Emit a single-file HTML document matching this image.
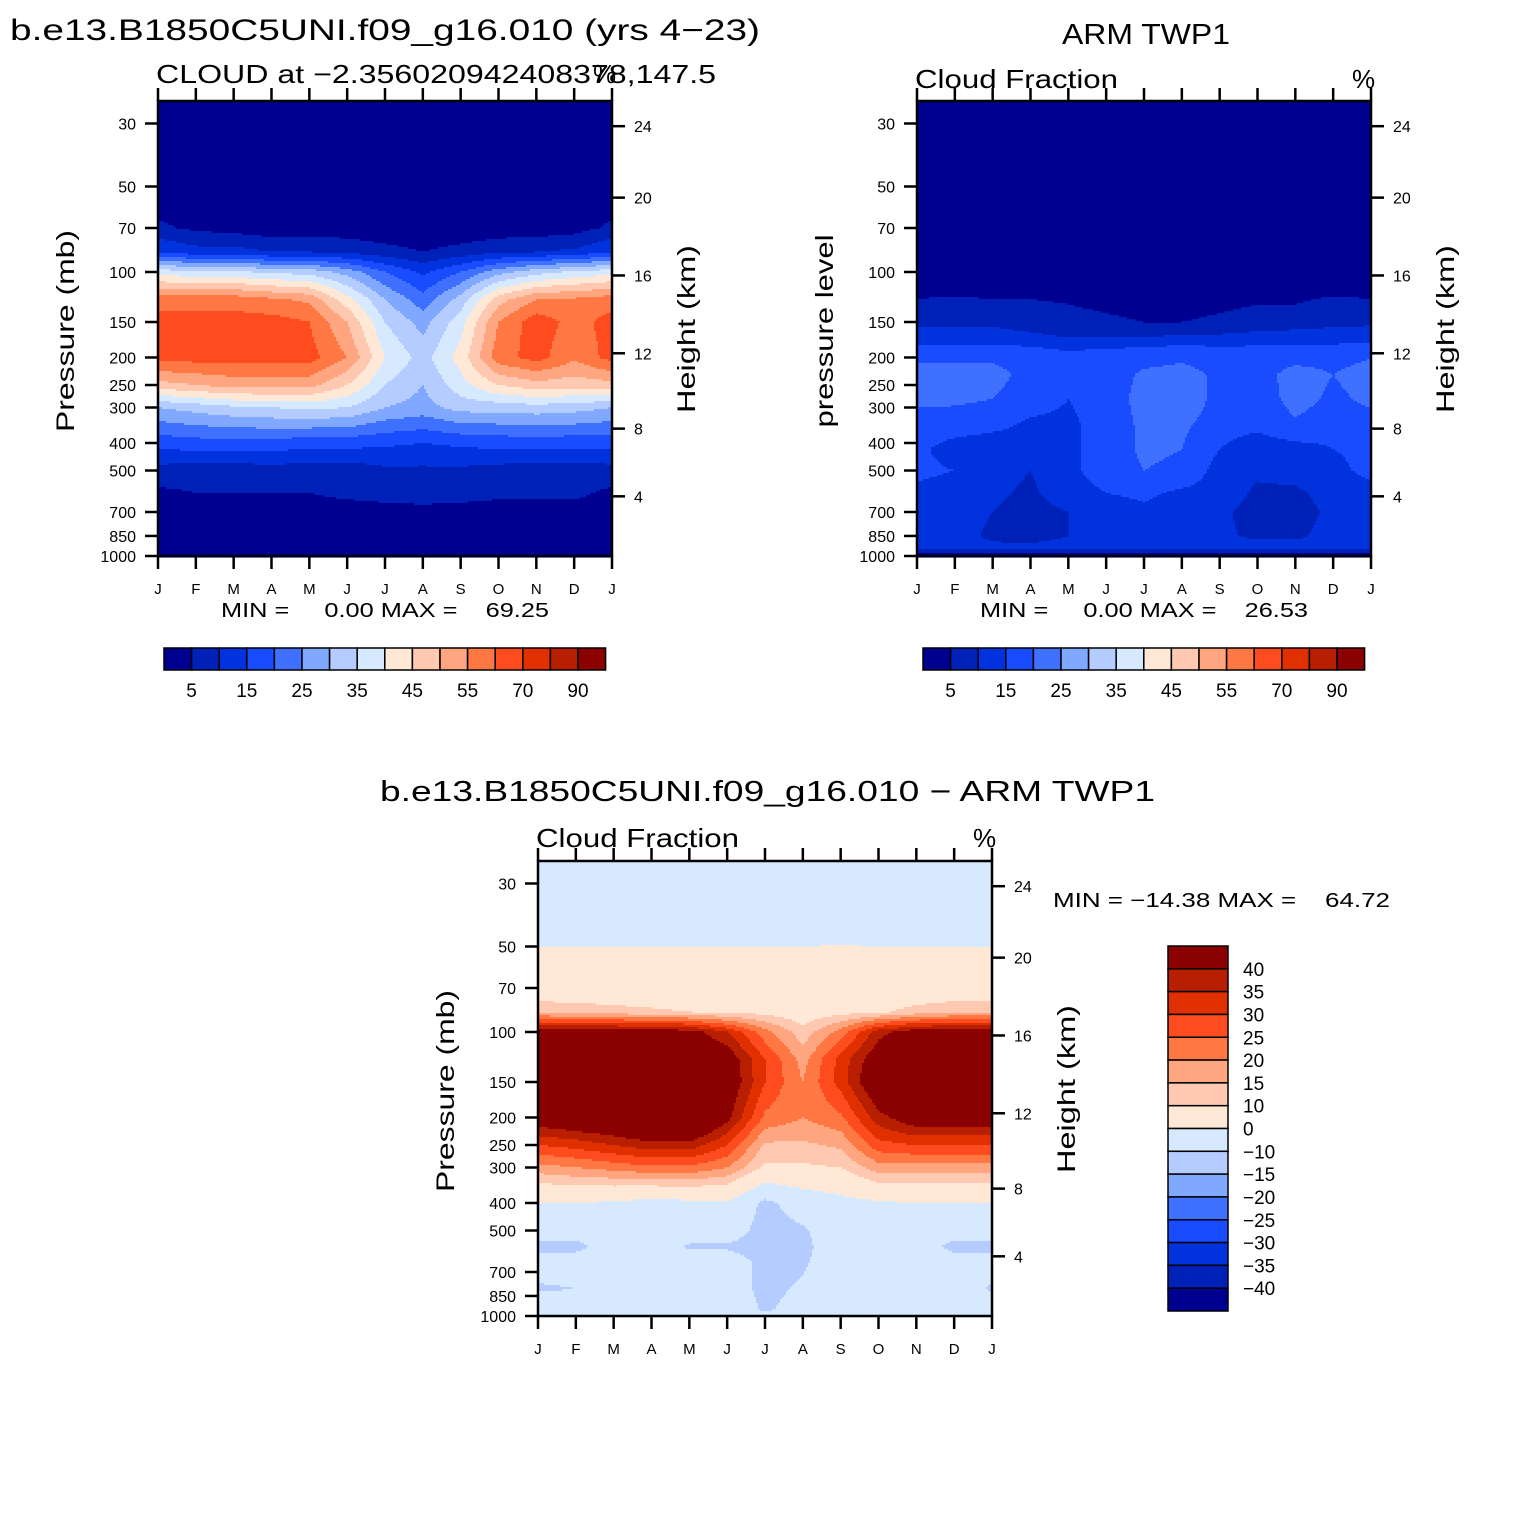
<!DOCTYPE html>
<html><head><meta charset="utf-8">
<style>
body{margin:0;background:#fff}
svg text{font-family:"Liberation Sans",sans-serif;fill:#000;white-space:pre}
</style></head>
<body>
<svg id="chart" xmlns="http://www.w3.org/2000/svg" width="1530" height="1530" viewBox="0 0 1530 1530">
<rect width="1530" height="1530" fill="#fff"/>
<text x="10" y="40" font-size="30" textLength="750" lengthAdjust="spacingAndGlyphs">b.e13.B1850C5UNI.f09_g16.010 (yrs 4−23)</text>
<text x="156" y="83" font-size="26" textLength="560" lengthAdjust="spacingAndGlyphs">CLOUD at −2.356020942408378,147.5</text>
<text x="593" y="83" font-size="26">%</text>
<text x="1062" y="44" font-size="29" textLength="168" lengthAdjust="spacingAndGlyphs">ARM TWP1</text>
<text x="915" y="88" font-size="26" textLength="203" lengthAdjust="spacingAndGlyphs">Cloud Fraction</text>
<text x="1352" y="88" font-size="26">%</text>
<text x="380" y="801" font-size="29" textLength="775" lengthAdjust="spacingAndGlyphs">b.e13.B1850C5UNI.f09_g16.010 − ARM TWP1</text>
<text x="536" y="847" font-size="26" textLength="203" lengthAdjust="spacingAndGlyphs">Cloud Fraction</text>
<text x="973" y="847" font-size="26">%</text>
<text x="221" y="617" font-size="20" textLength="328" lengthAdjust="spacingAndGlyphs">MIN =     0.00 MAX =    69.25</text>
<text x="980" y="617" font-size="20" textLength="328" lengthAdjust="spacingAndGlyphs">MIN =     0.00 MAX =    26.53</text>
<text x="1053" y="907" font-size="20" textLength="337" lengthAdjust="spacingAndGlyphs">MIN = −14.38 MAX =    64.72</text>
<g id="panels"></g>
</svg>
<script>
// ---- data ----
const months = ["J","F","M","A","M","J","J","A","S","O","N","D","J"];
const pTicks = [30,50,70,100,150,200,250,300,400,500,700,850,1000];
const hTicks = [24,20,16,12,8,4];
const cloudLevels = [5,10,15,20,25,30,35,40,45,50,55,60,70,80,90];
const cloudLabels = ["5","15","25","35","45","55","70","90"];
const diffLevels = [-40,-35,-30,-25,-20,-15,-10,0,10,15,20,25,30,35,40];
const diffLabels = ["40","35","30","25","20","15","10","0","−10","−15","−20","−25","−30","−35","−40"];
const colors = ["#000090","#0021b8","#0033dd","#1a4cff","#4070ff","#80a8ff","#b4ccff","#d6e9ff","#ffe9d6","#ffc8b0","#ffa680","#ff7844","#ff4c1e","#e03000","#b81e00","#8b0000"];

const modelP = [25,50,70,85,100,125,150,200,250,300,400,500,600,700,850,1000];
const modelV = [
[1,1,1,1,1,1,1,1,1,1,1,1,1],
[1,1,1,1,1,1,1,1,1,1,1,1,1],
[6,4,3,2,2,2,1,1,1,2,2,3,6],
[15,12,12,10,10,9,7,5,7,9,10,11,15],
[38,36,36,34,33,28,20,14,20,28,33,36,38],
[58,58,58,56,54,42,30,22,32,48,55,56,58],
[62,62,62,62,60,50,35,28,38,55,63,58,62],
[62,62,62,62,62,55,40,33,42,58,62,56,62],
[48,50,52,52,52,45,35,30,38,45,48,47,48],
[30,32,34,35,36,35,30,28,32,32,33,32,30],
[17,18,18,18,17,17,16,15,16,17,17,17,17],
[8,7,7,8,7,7,9,9,9,8,7,7,8],
[4,5,5,5,5,6,7,8,7,6,6,6,4],
[3,3,3,3,3,3,3,3,3,3,3,3,3],
[3,3,3,3,3,3,3,3,3,3,3,3,3],
[2,2,2,2,2,2,2,2,2,2,2,2,2]];

const obsP = [25,110,130,150,170,190,230,280,350,420,500,600,700,850,930,960,1000];
const obsV = [
[1,1,1,1,1,1,1,1,1,1,1,1,1],
[2,2,2,2,2,2,2,2,2,2,2,2,2],
[6,7,6,6,5,4,3,3,4,5,5,7,6],
[9,9,9,8,7,6,5,5,6,7,8,9,9],
[12,12,12,11,10,10,10,11,11,12,12,12,13],
[18,18,18,17,15,16,17,18,17,17,17,18,19],
[22,22,22,18,16,17,21,22,19,18,22,20,22],
[21,21,20,17,15,17,22,24,18,17,22,19,21],
[18,17,16,14,14,17,21,21,17,16,19,17,18],
[16,13,12,13,14,17,21,20,15,12,13,15,16],
[16,15,12,10,14,17,20,19,13,11,12,14,16],
[14,13,11,9,13,15,16,14,13,9,9,12,14],
[12,12,10,8,10,12,14,12,11,8,8,11,12],
[12,12,9,8,10,12,15,12,11,9,9,12,12],
[12,12,11,11,12,12,13,12,12,12,12,12,12],
[7,7,7,7,7,7,7,7,7,7,7,7,7],
[3,3,3,3,3,3,3,3,3,3,3,3,3]];

const diffP = [25,48,52,70,85,100,125,150,200,250,300,400,500,570,650,800,950,1000];
const diffV = [
[-5,-5,-5,-5,-5,-5,-5,-5,-5,-5,-5,-5,-5],
[-3,-3,-3,-3,-3,-3,-3,-3,-2,-3,-3,-3,-3],
[3,3,3,3,3,3,3,3,3,3,3,3,3],
[5,5,5,5,5,5,5,5,5,5,5,5,5],
[14,13,12,11,10,9,8,6,8,9,12,14,14],
[45,45,45,44,43,35,22,12,22,38,44,45,45],
[50,50,50,50,50,45,30,18,32,45,50,50,50],
[55,55,55,55,55,46,30,20,32,48,55,55,55],
[45,48,50,55,55,42,24,20,24,38,45,45,45],
[30,32,35,38,38,30,14,14,16,28,30,30,30],
[18,20,22,24,24,20,9,9,10,18,18,18,18],
[0,0,-1,-3,-2,-1,-12,-6,-3,-1,0,0,0],
[-6,-7,-6,-5,-5,-6,-13,-11,-5,-5,-6,-7,-6],
[-12,-12,-6,-5,-11,-11,-13,-12,-5,-5,-6,-12,-12],
[-6,-6,-5,-5,-5,-6,-12,-11,-5,-5,-5,-7,-6],
[-11,-10,-5,-5,-5,-6,-12,-9,-5,-5,-5,-5,-11],
[-5,-5,-5,-5,-5,-5,-11,-7,-5,-5,-5,-5,-5],
[-5,-5,-5,-5,-5,-5,-5,-5,-5,-5,-5,-5,-5]];

const NS="http://www.w3.org/2000/svg";
const root=document.getElementById('panels');
function mk(tag,attrs,parent){const e=document.createElementNS(NS,tag);for(const k in attrs)e.setAttribute(k,attrs[k]);(parent||root).appendChild(e);return e;}
const LP0=Math.log10(25),LP1=Math.log10(1000);
function yScale(p,top,h){return top+(Math.log10(p)-LP0)/(LP1-LP0)*h;}
function xScale(m,left,w){return left+m/12*w;}
function stdAtmP(z){ // approximate pressure (hPa) at height z km
  if(z<=11) return 1013.25*Math.pow(1-0.0065*z*1000/288.15,5.255);
  if(z<=20) return 226.32*Math.exp(-(z-11)/6.34);
  return 54.75*Math.exp(-(z-20)/6.9);
}
function classify(v,levels){let i=0;while(i<levels.length&&v>=levels[i])i++;return i;}
function sample(P,V,m,lp){
  let j=0;const lps=P.map(p=>Math.log10(p));
  while(j<lps.length-2&&lp>lps[j+1])j++;
  let t=(lp-lps[j])/(lps[j+1]-lps[j]);t=Math.max(0,Math.min(1,t));
  let i=Math.min(11,Math.floor(m));let s=m-i;
  const a=V[j][i]*(1-s)+V[j][i+1]*s, b=V[j+1][i]*(1-s)+V[j+1][i+1]*s;
  return a*(1-t)+b*t;
}
function panel(name,left,top,P,V,levels,leftTitle,ltLen){
  const w=454,h=455,g=mk('g',{});
  
  
  const step=2;
  for(let py=0;py<h;py+=step){
    const lp=LP0+(py+step/2)/h*(LP1-LP0);
    let runStart=0,runC=-1;
    for(let px=0;px<=w;px+=step){
      let c=-2;
      if(px<w){const m=(px+step/2)/w*12;c=classify(sample(P,V,m,lp),levels);}
      if(c!==runC){
        if(runC>=0){const r=mk('rect',{x:left+runStart,y:top+py,width:px-runStart+0.6,height:step+0.6,fill:colors[runC]},g);
          
          }
        runStart=px;runC=c;
      }
    }
  }
  const f=mk('rect',{x:left,y:top,width:w,height:h,fill:'none',stroke:'#000','stroke-width':2.5},g);
  
  
  months.forEach((mo,i)=>{
    const x=xScale(i,left,w);
    mk('line',{x1:x,x2:x,y1:top-13,y2:top,stroke:'#000','stroke-width':2.5},g);
    mk('line',{x1:x,x2:x,y1:top+h,y2:top+h+13,stroke:'#000','stroke-width':2.5},g);
    const t=mk('text',{x:x,y:top+h+38,'font-size':15,'text-anchor':'middle'},g);t.textContent=mo;
    
    
  });
  pTicks.forEach(p=>{
    const y=yScale(p,top,h);
    mk('line',{x1:left-13,x2:left,y1:y,y2:y,stroke:'#000','stroke-width':2.5},g);
    const t=mk('text',{x:left-22,y:y+6,'font-size':16,'text-anchor':'end'},g);t.textContent=p;
    
    
  });
  hTicks.forEach(hk=>{
    const y=yScale(stdAtmP(hk),top,h);
    mk('line',{x1:left+w,x2:left+w+13,y1:y,y2:y,stroke:'#000','stroke-width':2.5},g);
    const t=mk('text',{x:left+w+22,y:y+6,'font-size':16},g);t.textContent=hk;
    
    
  });
  const yl=mk('text',{x:0,y:0,'font-size':25,'text-anchor':'middle',textLength:ltLen,lengthAdjust:'spacingAndGlyphs',transform:`translate(${left-84},${top+230}) rotate(-90)`},g);
  yl.textContent=leftTitle;
  
  
  const yr=mk('text',{x:0,y:0,'font-size':25,'text-anchor':'middle',textLength:168,lengthAdjust:'spacingAndGlyphs',transform:`translate(${left+w+83},${top+228}) rotate(-90)`},g);
  yr.textContent='Height (km)';
  
  
}
function hbar(name,left,top){
  const g=mk('g',{}),bw=27.6,bh=22;
  
  
  colors.forEach((c,i)=>{const r=mk('rect',{x:left+i*bw,y:top,width:bw,height:bh,fill:c,stroke:'#000','stroke-width':1.5},g);
    
    });
  cloudLabels.forEach((l,k)=>{const t=mk('text',{x:left+(2*k+1)*bw,y:top+49,'font-size':19,'text-anchor':'middle'},g);t.textContent=l;
    
    });
}
function vbar(name,left,top){
  const g=mk('g',{}),bw=60,bh=365/16;
  
  
  colors.slice().reverse().forEach((c,i)=>{const r=mk('rect',{x:left,y:top+i*bh,width:bw,height:bh,fill:c,stroke:'#000','stroke-width':1.5},g);
    
    });
  diffLabels.forEach((l,k)=>{const t=mk('text',{x:left+75,y:top+(k+1)*bh+7,'font-size':19},g);t.textContent=l;
    
    });
}
panel('model-cloud-panel',158,101,modelP,modelV,cloudLevels,'Pressure (mb)',202);
panel('obs-cloud-panel',917,101,obsP,obsV,cloudLevels,'pressure level',193);
panel('diff-cloud-panel',538,861,diffP,diffV,diffLevels,'Pressure (mb)',202);
hbar('model-colorbar',164,648);
hbar('obs-colorbar',923,648);
vbar('diff-colorbar',1168,946);
</script>
</body></html>
